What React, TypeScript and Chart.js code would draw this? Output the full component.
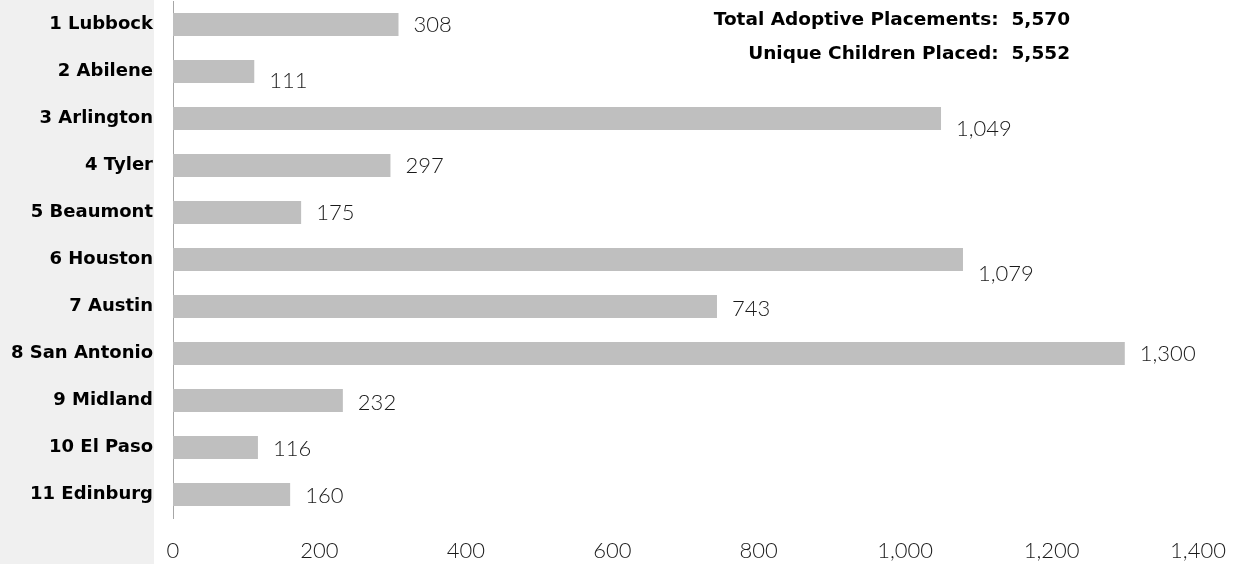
import React, { useEffect, useRef } from "react";
import { Chart, registerables } from "chart.js";

Chart.register(...registerables);

const categories = [
  "1 Lubbock",
  "2 Abilene",
  "3 Arlington",
  "4 Tyler",
  "5 Beaumont",
  "6 Houston",
  "7 Austin",
  "8 San Antonio",
  "9 Midland",
  "10 El Paso",
  "11 Edinburg",
];
const placements = [308, 111, 1049, 297, 175, 1079, 743, 1300, 232, 116, 160];
const xTicks = [0, 200, 400, 600, 800, 1000, 1200, 1400];
const summaryLabels = ["Total Adoptive Placements:", "Unique Children Placed:"];
const summaryValues = [5570, 5552];

// label vertical nudges (style only)
const labelNudge = [0, 9, 10, 0, 0, 14, 2, 0, 2, 1, 1];

const fmt = (v: number) => v.toLocaleString("en-US");

const LIGHT_FAMILY = "'Lato', 'Open Sans', sans-serif";
const BOLD_FAMILY = "'DejaVu Sans', 'Open Sans', sans-serif";
const VALUE_FONT = "300 22px " + LIGHT_FAMILY;
const BOLD_FONT = "bold 18.5px " + BOLD_FAMILY;

const bgPlugin = {
  id: "leftBg",
  beforeDraw(chart: any) {
    const ctx = chart.ctx;
    ctx.save();
    ctx.fillStyle = "#ffffff";
    ctx.fillRect(0, 0, chart.width, chart.height);
    ctx.fillStyle = "#f0f0f0";
    ctx.fillRect(0, 0, 154, chart.height);
    ctx.restore();
  },
};

const labelPlugin = {
  id: "valueLabels",
  afterDatasetsDraw(chart: any) {
    const ctx = chart.ctx;
    const meta = chart.getDatasetMeta(0);
    ctx.save();
    ctx.font = VALUE_FONT;
    ctx.fillStyle = "#1a1a1a";
    ctx.textAlign = "left";
    ctx.textBaseline = "middle";
    meta.data.forEach((bar: any, i: number) => {
      ctx.fillText(fmt(placements[i]), bar.x + 15, bar.y + (labelNudge[i] || 0));
    });
    ctx.font = BOLD_FONT;
    ctx.fillStyle = "#000000";
    ctx.textAlign = "right";
    const rows = [20, 54];
    summaryLabels.forEach((lab, i) => {
      ctx.fillText(lab + "  " + fmt(summaryValues[i]), 1070, rows[i]);
    });
    ctx.restore();
  },
};

export default function App() {
  const ref = useRef<HTMLCanvasElement | null>(null);
  useEffect(() => {
    document.body.style.margin = "0";
    if (!ref.current) return;
    const chart = new Chart(ref.current, {
      type: "bar",
      data: {
        labels: categories,
        datasets: [
          {
            data: placements,
            backgroundColor: "#bfbfbf",
            borderWidth: 0,
            categoryPercentage: 1,
            barPercentage: 0.49,
          },
        ],
      },
      options: {
        indexAxis: "y",
        animation: false,
        responsive: false,
        maintainAspectRatio: false,
        layout: { padding: { top: 1, right: 36, bottom: 0, left: 0 } },
        plugins: {
          legend: { display: false },
          tooltip: { enabled: false },
        },
        scales: {
          x: {
            type: "linear",
            min: 0,
            max: 1400,
            afterBuildTicks: (scale: any) => {
              scale.ticks = xTicks.map((v) => ({ value: v }));
            },
            afterFit: (scale: any) => {
              scale.height = 46;
              scale.paddingLeft = 0;
              scale.paddingRight = 0;
            },
            grid: { display: false, drawTicks: false },
            border: { display: false },
            ticks: {
              padding: 20,
              color: "#1a1a1a",
              font: { family: LIGHT_FAMILY, size: 22, weight: "300" },
              callback: (v: any) => fmt(Number(v)),
            },
          },
          y: {
            afterFit: (scale: any) => {
              scale.width = 173;
              scale.paddingTop = 0;
              scale.paddingBottom = 0;
            },
            grid: { display: false, drawTicks: false },
            border: { display: true, color: "#a6a6a6", width: 1 },
            ticks: {
              padding: 20,
              color: "#000000",
              font: { family: BOLD_FAMILY, size: 18, weight: "bold" },
            },
          },
        },
      },
      plugins: [bgPlugin, labelPlugin],
    });
    return () => chart.destroy();
  }, []);
  return <canvas ref={ref} width={1234} height={564} style={{ display: "block" }} />;
}
